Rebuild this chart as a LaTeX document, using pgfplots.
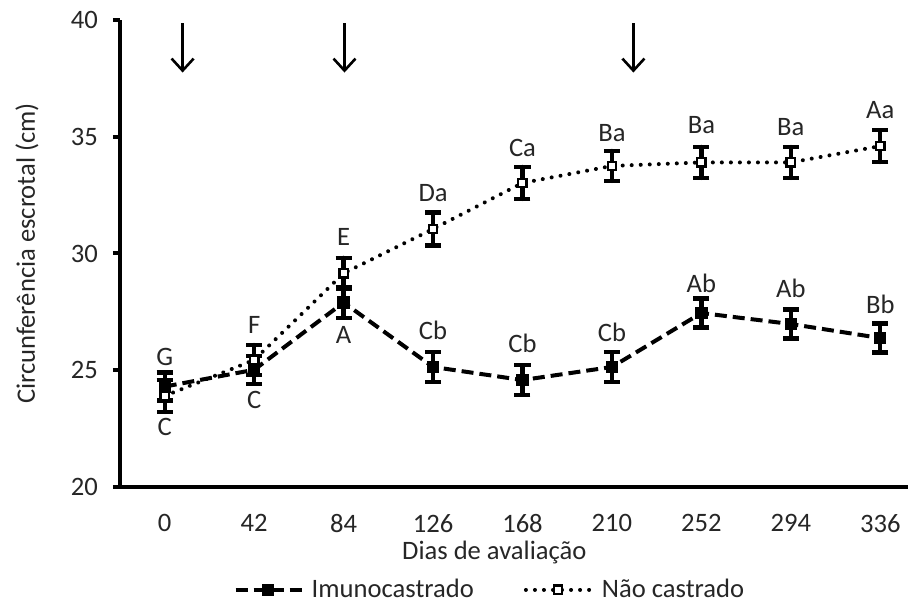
\documentclass[border=0pt]{standalone}
\usepackage{pgfplots}
\usepackage{pgfplotstable}
\pgfplotsset{compat=1.18}
\usetikzlibrary{arrows.meta,calc}
\usepackage{fontspec}
\setmainfont{Carlito}
\newcommand\fs{\fontsize{13.3}{16}\selectfont}
\definecolor{txt}{HTML}{262626}

% day index: 0=0, 1=42, ..., 8=336
\pgfplotstableread{
x y e
0 24.30 0.60
1 25.02 0.60
2 27.90 0.66
3 25.14 0.64
4 24.58 0.64
5 25.14 0.64
6 27.45 0.62
7 26.98 0.62
8 26.38 0.62
}\imuno
\pgfplotstableread{
x y e
0 23.90 0.68
1 25.44 0.64
2 29.15 0.66
3 31.05 0.70
4 33.02 0.68
5 33.75 0.64
6 33.90 0.66
7 33.90 0.66
8 34.60 0.68
}\nao
% letters, placed at their centres
\pgfplotstableread{
x y l
0 25.57 G
1 26.94 F
2 30.71 E
3 32.59 Da
4 34.52 Ca
5 35.16 Ba
6 35.50 Ba
7 35.42 Ba
8 36.15 Aa
0 22.57 C
1 23.73 C
2 26.51 A
3 26.72 Cb
4 26.17 Cb
5 26.64 Cb
6 28.74 Ab
7 28.52 Ab
8 27.84 Bb
}\letras

\begin{document}
\begin{tikzpicture}
\begin{axis}[
    scale only axis,
    width=394pt, height=233.5pt,
    xmin=-0.5, xmax=8.31,
    ymin=20, ymax=40,
    clip=false,
    axis x line=bottom, axis y line=left,
    axis line style={line width=2pt, -},
    xtick={0,...,8},
    xticklabels={0,42,84,126,168,210,252,294,336},
    ytick={20,25,30,35,40},
    x tick style={draw=none},
    y tick style={line width=2pt, black},
    tick align=outside,
    major tick length=3.5pt,
    /pgf/number format/assume math mode=true,
    tick label style={font=\fs, text=txt},
    xticklabel style={yshift=-6.5pt},
    yticklabel style={xshift=-4pt},
    xlabel={Dias de avaliação},
    ylabel={Circunferência escrotal (cm)},
    label style={font=\fs, text=txt},
    xlabel style={at={(axis description cs:0.475,-0.14)}, anchor=center},
    ylabel style={at={(axis description cs:-0.118,0.5)}, anchor=center},
    legend columns=2,
    legend style={draw=none, fill=none, font=\fs, text=txt,
        at={(0.472,-0.22)}, anchor=center,
        nodes={inner xsep=3pt},
        /tikz/every even column/.append style={column sep=22pt}},
    legend image code/.code={
        \draw[#1, mark=none] (0pt,0pt) -- (34pt,0pt);
        \draw[#1, solid] plot coordinates {(16pt,0pt)};},
]
\addplot[black, line width=2pt, dash pattern=on 6pt off 3pt,
    mark=square*, mark size=2.1pt, mark options={solid, fill=black},
    error bars/.cd, y dir=both, y explicit,
    error bar style={line width=2.2pt, solid},
    error mark options={rotate=90, mark size=4pt, line width=2.2pt, solid}]
    table[x=x, y=y, y error=e] {\imuno};
\addlegendentry{Imunocastrado}
\addplot[black, line width=2pt, line cap=round, dash pattern=on 0.01pt off 4.5pt,
    mark=square*, mark size=2.1pt, mark options={solid, fill=white, line width=1.2pt},
    error bars/.cd, y dir=both, y explicit,
    error bar style={line width=2.2pt, solid},
    error mark options={rotate=90, mark size=4pt, line width=2.2pt, solid}]
    table[x=x, y=y, y error=e] {\nao};
\addlegendentry{Não castrado}
\addplot[only marks, mark=none, forget plot,
    nodes near coords, point meta=explicit symbolic,
    every node near coord/.append style={anchor=center, inner sep=0pt, font=\fs, text=txt}]
    table[x=x, y=y, meta=l] {\letras};
% arrows marking the applications
\draw[line width=1.3pt, -{Straight Barb[length=6pt,width=11pt]}]
    (axis cs:0.2,39.87) -- (axis cs:0.2,37.75);
\draw[line width=1.3pt, -{Straight Barb[length=6pt,width=11pt]}]
    (axis cs:2.01,39.87) -- (axis cs:2.01,37.75);
\draw[line width=1.3pt, -{Straight Barb[length=6pt,width=11pt]}]
    (axis cs:5.24,39.87) -- (axis cs:5.24,37.75);
\end{axis}
\pgfresetboundingbox
\path[use as bounding box] ($(current axis.south west)+(-60pt,-58pt)$) rectangle ($(current axis.north east)+(1.5pt,10pt)$);
\end{tikzpicture}
\end{document}
